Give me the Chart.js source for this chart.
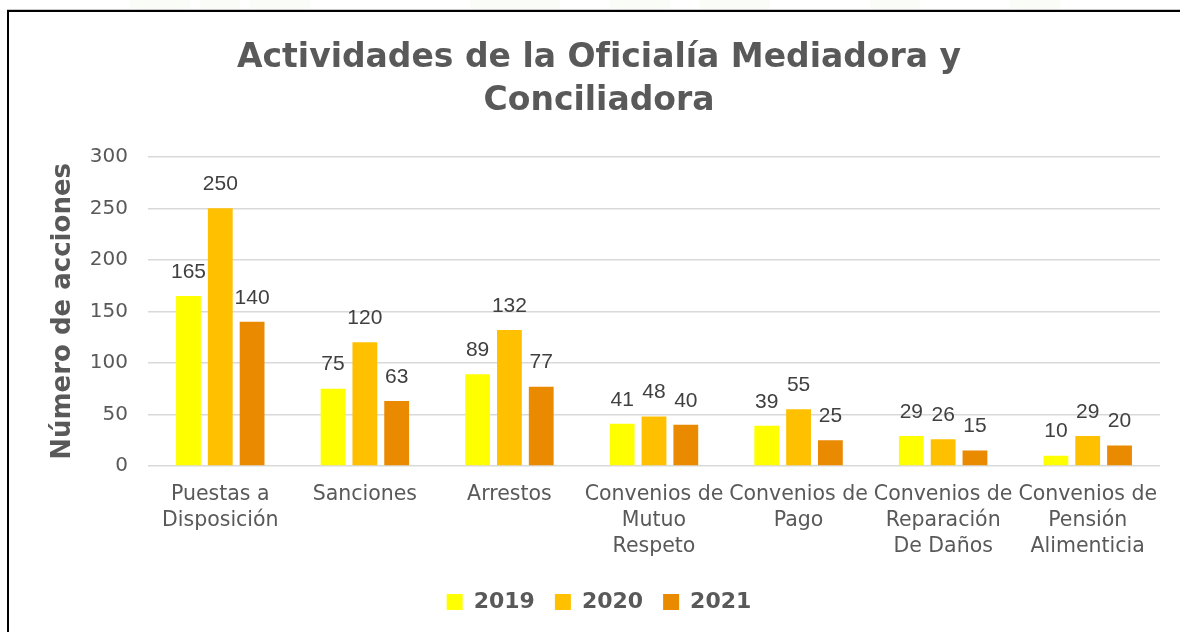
<!DOCTYPE html>
<html lang="es">
<head>
<meta charset="utf-8">
<script src="https://cdn.jsdelivr.net/npm/chart.js@4"></script>
<style>
  html, body { margin: 0; padding: 0; background: #ffffff; }
  #wrap { position: relative; width: 1180px; height: 632px; }
</style>
</head>
<body>
<div id="wrap"><canvas id="chart" width="1180" height="632"></canvas></div>
<script>
// Categorías (etiquetas del eje X, ya divididas en líneas)
const categories = [
  ["Puestas a", "Disposición"],
  ["Sanciones"],
  ["Arrestos"],
  ["Convenios de", "Mutuo", "Respeto"],
  ["Convenios de", "Pago"],
  ["Convenios de", "Reparación", "De Daños"],
  ["Convenios de", "Pensión", "Alimenticia"]
];
const seriesNames = ["2019", "2020", "2021"];
const values2019 = [165, 75, 89, 41, 39, 29, 10];
const values2020 = [250, 120, 132, 48, 55, 26, 29];
const values2021 = [140, 63, 77, 40, 25, 15, 20];
const yTicks = [0, 50, 100, 150, 200, 250, 300];

const colors = ["#FFFF00", "#FFC000", "#E98A00"];
const textGray = "#595959";
const baseFont = "'DejaVu Sans', sans-serif";
const numFont = "'Liberation Sans', sans-serif";

// Marco de la página y figuras tenues de fondo en la franja superior
const framePlugin = {
  id: "frame",
  beforeDraw(chart) {
    const ctx = chart.ctx;
    ctx.save();
    ctx.fillStyle = "#ffffff";
    ctx.fillRect(0, 0, chart.width, chart.height);
    ctx.fillStyle = "rgba(214, 234, 200, 0.12)";
    [[130, 60], [200, 40], [250, 60], [470, 90], [610, 60], [700, 70], [870, 50], [1010, 50]].forEach(([x, w]) => {
      ctx.fillRect(x, 0, w, 9);
    });
    ctx.fillStyle = "#c8c8c8";
    ctx.fillRect(7, 9, chart.width - 7, 1);
    ctx.fillStyle = "#000000";
    ctx.fillRect(7, 10, chart.width - 7, 2);
    ctx.fillRect(7, 10, 2, chart.height - 10);
    ctx.restore();
  }
};

// Etiquetas de valor sobre cada barra
const valueLabels = {
  id: "valueLabels",
  afterDatasetsDraw(chart) {
    const ctx = chart.ctx;
    ctx.save();
    ctx.font = "21px " + numFont;
    ctx.fillStyle = "#404040";
    ctx.textAlign = "center";
    ctx.textBaseline = "middle";
    chart.data.datasets.forEach((ds, i) => {
      const meta = chart.getDatasetMeta(i);
      meta.data.forEach((bar, j) => {
        ctx.fillText(String(ds.data[j]), bar.x, bar.y - 24);
      });
    });
    ctx.restore();
  }
};

new Chart(document.getElementById("chart"), {
  type: "bar",
  data: {
    labels: categories,
    datasets: [
      { label: seriesNames[0], data: values2019, backgroundColor: colors[0] },
      { label: seriesNames[1], data: values2020, backgroundColor: colors[1] },
      { label: seriesNames[2], data: values2021, backgroundColor: colors[2] }
    ]
  },
  options: {
    responsive: false,
    animation: false,
    devicePixelRatio: 1,
    datasets: { bar: { categoryPercentage: 0.66, barPercentage: 0.78 } },
    layout: { padding: { left: 38, right: 20, top: 0, bottom: 9 } },
    plugins: {
      title: {
        display: true,
        text: ["Actividades de la Oficialía Mediadora y", "Conciliadora"],
        color: textGray,
        font: { family: baseFont, size: 33, weight: "bold", lineHeight: 1.3 },
        padding: { top: 37, bottom: 34 }
      },
      legend: {
        display: true,
        position: "bottom",
        labels: {
          color: textGray,
          font: { family: baseFont, size: 22, weight: "bold" },
          boxWidth: 16,
          boxHeight: 16,
          padding: 20
        }
      },
      tooltip: { enabled: false }
    },
    scales: {
      x: {
        grid: { display: false, drawTicks: false },
        border: { display: false },
        ticks: {
          color: textGray,
          font: { family: baseFont, size: 20.5, lineHeight: 1.27 },
          padding: 16,
          maxRotation: 0,
          autoSkip: false
        },
        afterFit(scale) { scale.height = 105; }
      },
      y: {
        min: 0,
        max: 300,
        grid: { color: "#d9d9d9", lineWidth: 1.5, drawTicks: false },
        border: { display: false },
        ticks: {
          color: textGray,
          font: { family: baseFont, size: 20 },
          padding: 20,
          stepSize: 50,
          callback: (v) => yTicks.includes(v) ? String(v) : ""
        },
        title: {
          display: true,
          text: "Número de acciones",
          color: textGray,
          font: { family: baseFont, size: 26, weight: "bold" },
          padding: { top: 10, bottom: 0 }
        },
        afterFit(scale) { scale.width = 110; }
      }
    }
  },
  plugins: [framePlugin, valueLabels]
});
</script>
</body>
</html>
